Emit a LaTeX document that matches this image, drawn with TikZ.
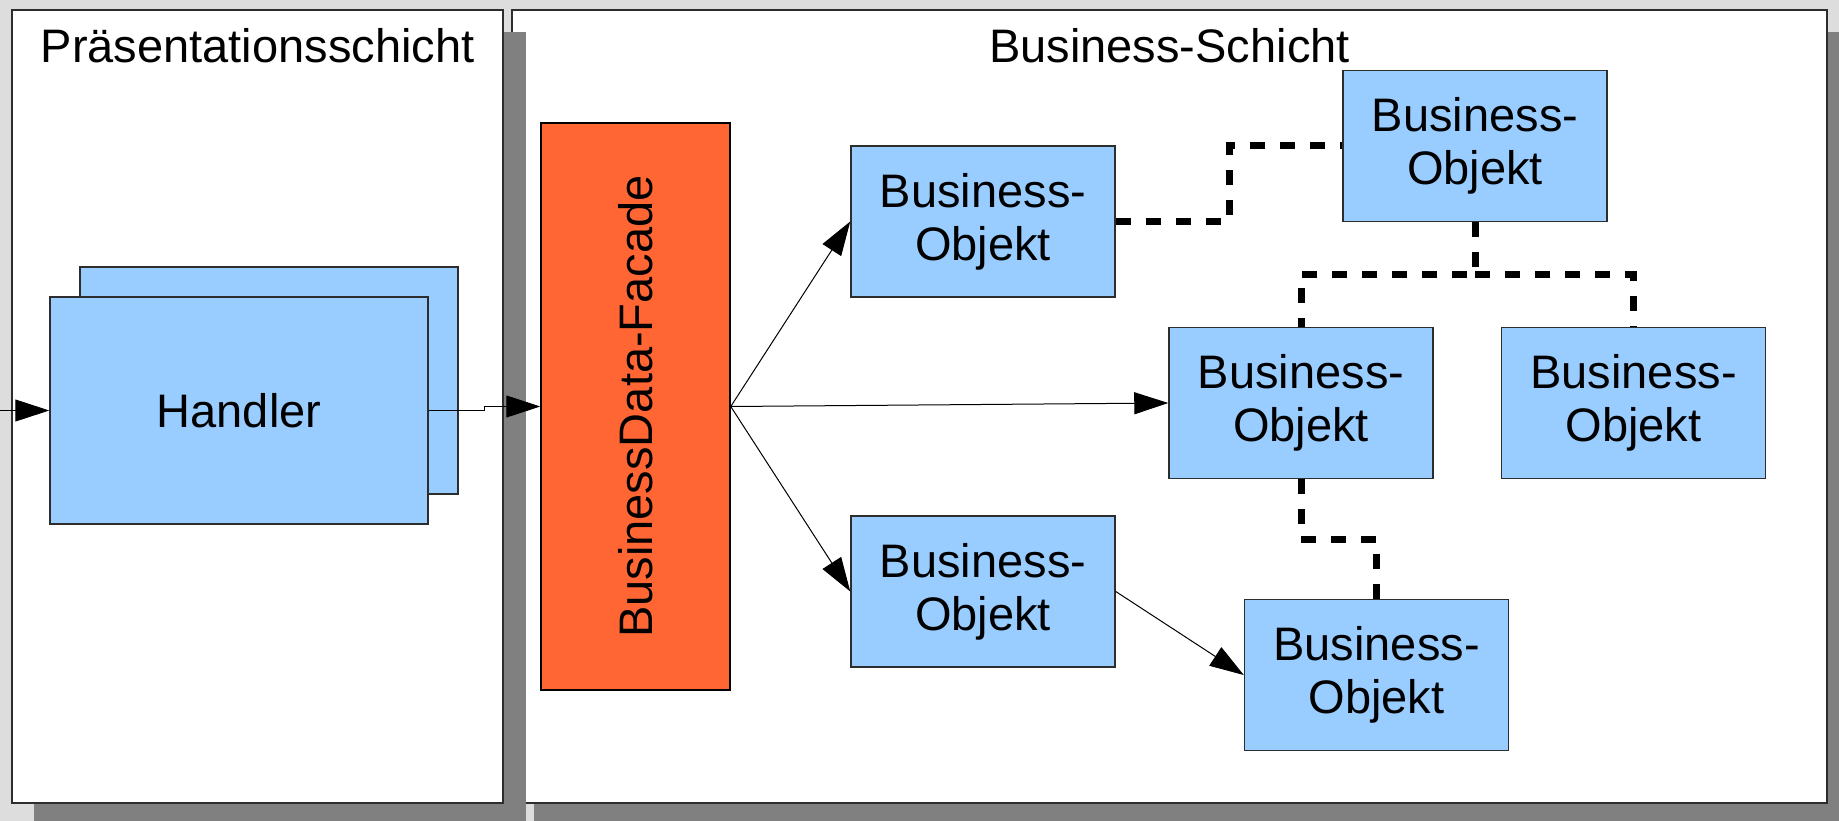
\documentclass[tikz,border=0pt]{standalone}
\usepackage{fontspec}
\setmainfont{Liberation Sans}
\usetikzlibrary{arrows.meta,calc}
\definecolor{bgc}{RGB}{221,221,221}
\definecolor{shadowc}{RGB}{128,128,128}
\definecolor{boblue}{RGB}{153,204,255}
\definecolor{facadeorange}{RGB}{255,102,51}
\definecolor{edgec}{RGB}{45,45,45}
\newcommand{\bigtxt}{\fontsize{47}{53}\selectfont}
\begin{document}
\begin{tikzpicture}[x=1pt,y=-1pt,
  panelbox/.style={draw=edgec, line width=1.5pt, fill=white, inner sep=0pt, minimum height=793pt},
  bobox/.style={draw=edgec, line width=1.5pt, fill=boblue, inner sep=0pt, minimum width=264pt, minimum height=151pt, align=center, font=\bigtxt},
  handlerbox/.style={draw=edgec, line width=1.5pt, fill=boblue, inner sep=0pt, minimum width=378pt, minimum height=227pt, font=\bigtxt},
  facadebox/.style={draw=black, line width=1.5pt, fill=facadeorange, inner sep=0pt, minimum width=189pt, minimum height=567pt},
  titletxt/.style={anchor=base, inner sep=0pt, font=\bigtxt},
  arr/.style={draw=black, line width=1pt, -{Triangle[length=34pt,width=22pt]}},
  dashline/.style={draw=black, line width=7pt, dash pattern=on 15pt off 15pt}]
\useasboundingbox (0,0) rectangle (1839,821);
\clip (0,0) rectangle (1839,821);
\fill[bgc] (0,0) rectangle (1839,821);
% right panel
\fill[shadowc] (534,32) rectangle (1849,830);
\node[panelbox, minimum width=1315pt] (bpanel) at (1169.5,406.5) {};
% left panel
\fill[shadowc] (34,32) rectangle (526,830);
\node[panelbox, minimum width=491pt] (ppanel) at (257.5,406.5) {};
% titles
\node[titletxt] (ptitle) at (257.5,63) {Präsentationsschicht};
\node[titletxt] (btitle) at (1169.5,63) {Business-Schicht};
% handler
\node[handlerbox] (hback) at (269,380.5) {};
\node[handlerbox] (handler) at (239,410.5) {Handler};
% facade
\node[facadebox] (facade) at (635.5,406.5) {};
\node[rotate=90, inner sep=0pt, font=\bigtxt] (facadetxt) at (facade.center) {BusinessData-Facade};
% business objects
\node[bobox] (bo1) at (983,221.5) {Business-\\Objekt};
\node[bobox] (bo2) at (983,591.5) {Business-\\Objekt};
\node[bobox] (bo3) at (1301,403) {Business-\\Objekt};
\node[bobox] (bo4) at (1475,146) {Business-\\Objekt};
\node[bobox] (bo5) at (1376.5,675) {Business-\\Objekt};
\node[bobox] (bo6) at (1633.5,403) {Business-\\Objekt};
% arrows
\coordinate (inlet) at (0,410.5);
\coordinate (stepa) at (484,410.5);
\coordinate (stepb) at (484,406.5);
\draw[arr] (inlet) -- (handler.west);
\draw[arr] (handler.east) -- (stepa) -- (stepb) -- (facade.west);
\draw[arr] (facade.east) -- (bo1.west);
\draw[arr] (facade.east) -- (bo3.west);
\draw[arr] (facade.east) -- (bo2.west);
\draw[arr] (bo2.east) -- (bo5.west);
% dashed associations
\coordinate (mida) at ($(bo1.east)!0.5!(bo4.west)$);
\coordinate (junc) at (1475,274.5);
\coordinate (midc) at ($(bo3.south)!0.5!(bo5.north)$);
\draw[dashline] (bo1.east) -| (mida) |- (bo4.west);
\draw[dashline] (bo4.south) -- (junc) -| (bo3.north);
\draw[dashline] (junc) -| (bo6.north);
\draw[dashline] (bo3.south) |- (midc) -| (bo5.north);
\end{tikzpicture}
\end{document}
